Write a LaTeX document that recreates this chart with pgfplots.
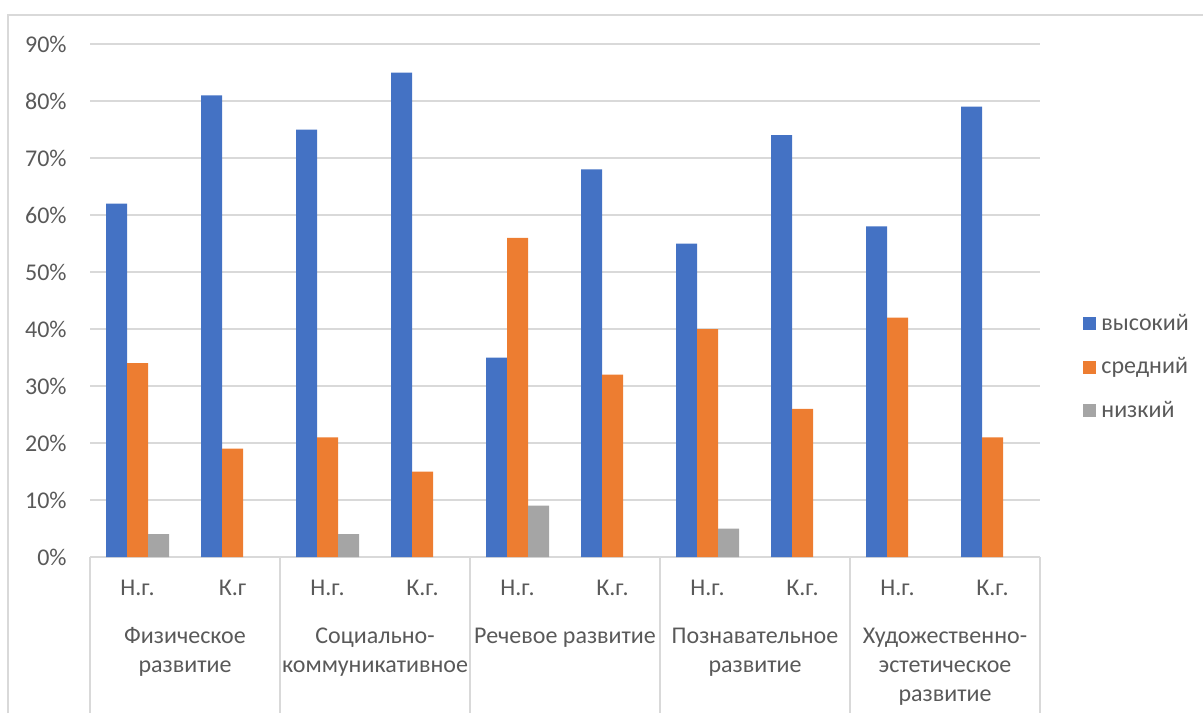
\documentclass[border=0pt]{standalone}
\usepackage{fontspec}
\setmainfont{Carlito}
\usepackage{pgfplots}
\pgfplotsset{compat=1.18}
\definecolor{cBlue}{HTML}{4472C4}
\definecolor{cOrange}{HTML}{ED7D31}
\definecolor{cGray}{HTML}{A5A5A5}
\definecolor{cText}{HTML}{595959}
\definecolor{cGrid}{HTML}{D9D9D9}
\begin{document}
\begin{tikzpicture}[font=\fontsize{12pt}{14.5pt}\selectfont]
\useasboundingbox (0,0) rectangle (601.5pt,356.5pt);
% chart frame (cropped on the right and bottom)
\draw[cGrid, line width=0.75pt] (4pt,0) -- (4pt,349pt) -- (601.5pt,349pt);
\begin{axis}[
  at={(45pt,78pt)}, anchor=south west,
  scale only axis,
  width=475pt, height=256.5pt,
  xmin=0.5, xmax=10.5,
  ymin=0, ymax=90,
  ybar=0pt, bar width=10.5pt,
  axis line style={draw=none},
  tick style={draw=none},
  ymajorgrids=true,
  grid style={cGrid, line width=0.75pt},
  ytick={0,10,...,90},
  yticklabels={0\%,10\%,20\%,30\%,40\%,50\%,60\%,70\%,80\%,90\%},
  yticklabel style={anchor=east, inner sep=0pt, xshift=-11.5pt, text=cText},
  xtick={1,...,10},
  xticklabels={Н.г.,К.г,Н.г.,К.г.,Н.г.,К.г.,Н.г.,К.г.,Н.г.,К.г.},
  xticklabel style={anchor=base, inner sep=0pt, yshift=-15pt, text=cText},
  clip=false,
  legend cell align=left,
  legend image code/.code={\fill[#1] (0pt,-3.25pt) rectangle (6.5pt,3.25pt);},
  legend style={
    at={(axis description cs:1,0.37)}, anchor=west, xshift=21.5pt,
    draw=none, fill=none, inner sep=0pt,
    row sep=12pt,
    nodes={text=cText, inner sep=0pt},
    /tikz/every odd column/.append style={column sep=2.5pt}
  }
]
\addplot[fill=cBlue, draw=none] coordinates {
  (1,62) (2,81) (3,75) (4,85) (5,35) (6,68) (7,55) (8,74) (9,58) (10,79)};
\addplot[fill=cOrange, draw=none] coordinates {
  (1,34) (2,19) (3,21) (4,15) (5,56) (6,32) (7,40) (8,26) (9,42) (10,21)};
\addplot[fill=cGray, draw=none] coordinates {
  (1,4) (3,4) (5,9) (7,5)};
\legend{высокий,средний,низкий}
% group separators of the two-level category axis
\pgfplotsinvokeforeach{0.5,2.5,4.5,6.5,8.5,10.5}{
  \draw[cGrid, line width=0.75pt] (axis cs:#1,0) -- ([yshift=-78pt]axis cs:#1,0);
}
% base anchor of a multi-line node is the baseline of its last line
\tikzset{grp/.style={anchor=base, align=center, inner sep=0pt, text=cText, yshift=-43pt-(#1-1)*14.5pt}}
\node[grp=2] at (axis cs:1.5,0) {Физическое\\развитие};
\node[grp=2] at (axis cs:3.5,0) {Социально-\\коммуникативное};
\node[grp=1] at (axis cs:5.5,0) {Речевое развитие};
\node[grp=2] at (axis cs:7.5,0) {Познавательное\\развитие};
\node[grp=3] at (axis cs:9.5,0) {Художественно-\\эстетическое\\развитие};
\end{axis}
\end{tikzpicture}
\end{document}
